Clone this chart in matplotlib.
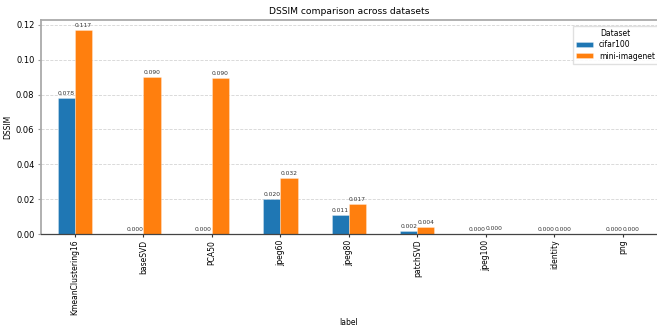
import numpy as np
import matplotlib
matplotlib.use("Agg")
import matplotlib.pyplot as plt

labels = ["KmeanClustering16", "baseSVD", "PCA50", "jpeg60", "jpeg80",
          "patchSVD", "jpeg100", "identity", "png"]
cifar100 = [0.078, 0.0, 0.0, 0.020, 0.011, 0.002, 0.0, 0.0, 0.0]
mini_imagenet = [0.117, 0.090, 0.0897, 0.032, 0.017, 0.004, 0.0003, 0.0, 0.0]
series = [("cifar100", cifar100, "#1f77b4"), ("mini-imagenet", mini_imagenet, "#ff7f0e")]

fig, ax = plt.subplots(figsize=(6.57, 3.33), dpi=100)
x = np.arange(len(labels))
w = 0.25
for i, (name, vals, col) in enumerate(series):
    bars = ax.bar(x + (i - 0.5) * w, vals, w, label=name, color=col,
                  edgecolor=(1, 1, 1, 0.4), linewidth=0.5)
    ax.bar_label(bars, fmt="%.3f", fontsize=4.3, padding=1.5, color="#333333")

ax.set_xticks(x)
ax.set_xticklabels(labels, rotation=90, fontsize=5.5)
ax.set_xlim(-0.5, len(labels) - 0.5)
ax.set_ylim(0, 0.1228)
ax.tick_params(axis="y", labelsize=6, length=2.5, pad=2, color="#999999")
ax.tick_params(axis="x", length=2.5, pad=1.5, color="#333333")
ax.set_title("DSSIM comparison across datasets", fontsize=6.6, pad=4)
ax.set_xlabel("label", fontsize=5.5, labelpad=2)
ax.set_ylabel("DSSIM", fontsize=5.5, labelpad=3)
ax.yaxis.grid(True, linestyle="--", color="#d5d5d5", linewidth=0.6)
ax.set_axisbelow(True)
ax.spines["left"].set_color("#aaaaaa")
ax.spines["left"].set_linewidth(1.3)
ax.spines["top"].set_color("#aaaaaa")
ax.spines["top"].set_linewidth(1.3)
ax.spines["right"].set_visible(False)
ax.spines["bottom"].set_color("#444444")
ax.spines["bottom"].set_linewidth(0.9)
leg = ax.legend(title="Dataset", fontsize=5.5, title_fontsize=5.5, loc="upper right",
                bbox_to_anchor=(1.008, 0.99), framealpha=0.9, edgecolor="#dddddd",
                fancybox=False, handlelength=2.2, handleheight=0.6,
                labelspacing=0.3, borderpad=0.4)

fig.subplots_adjust(left=0.062, right=1.0, top=0.94, bottom=0.297)
fig.savefig("out.png")
